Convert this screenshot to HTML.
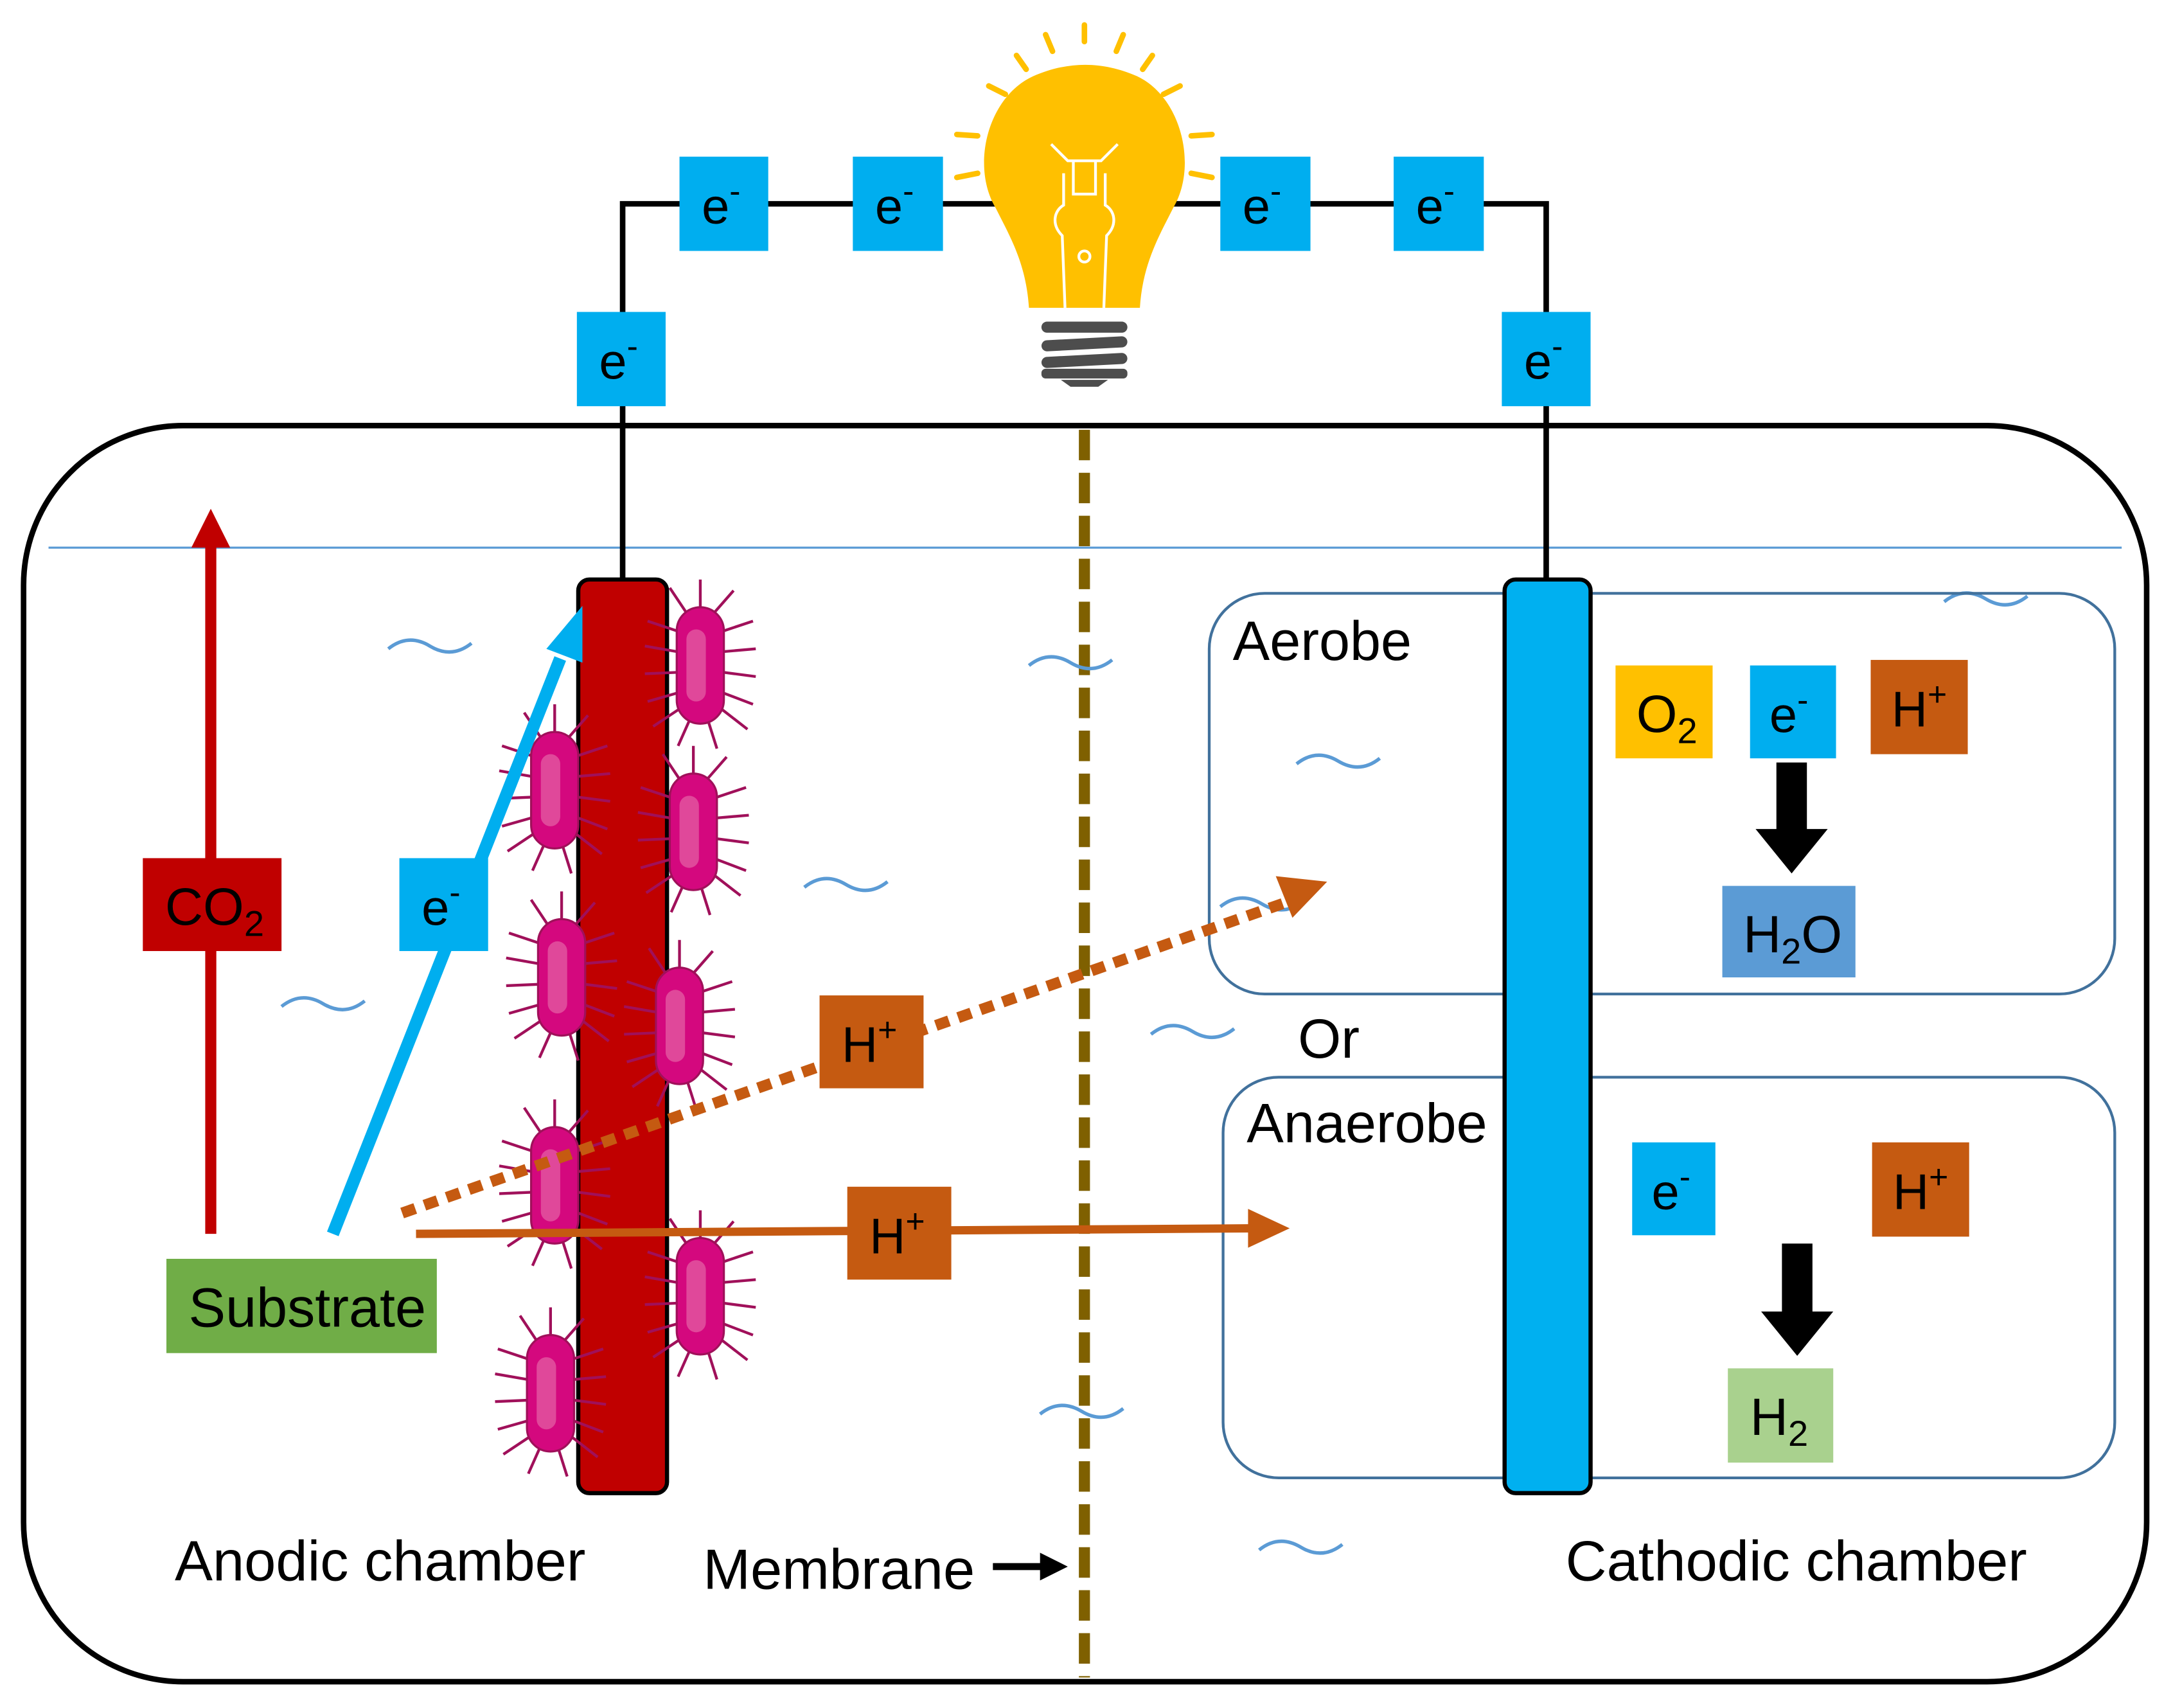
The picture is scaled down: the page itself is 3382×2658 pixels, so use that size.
<!DOCTYPE html>
<html><head><meta charset="utf-8"><style>html,body{margin:0;padding:0;background:#fff}svg{display:block}text{font-family:"Liberation Sans",Arial,sans-serif}</style></head>
<body>
<svg width="3382" height="2658" viewBox="0 0 1567 1232" preserveAspectRatio="none" xmlns="http://www.w3.org/2000/svg">
<defs>
<g id="bac">
  <g stroke="#A0105A" stroke-width="2">
    <line x1="0" y1="-40" x2="0" y2="-62"/><line x1="-10" y1="-38" x2="-22" y2="-56"/><line x1="10" y1="-38" x2="24" y2="-54"/>
    <line x1="-17" y1="-25" x2="-38" y2="-32"/><line x1="-17" y1="-10" x2="-40" y2="-14"/><line x1="-17" y1="5" x2="-40" y2="6"/><line x1="-17" y1="20" x2="-38" y2="26"/><line x1="-16" y1="32" x2="-34" y2="44"/>
    <line x1="17" y1="-25" x2="38" y2="-32"/><line x1="17" y1="-10" x2="40" y2="-12"/><line x1="17" y1="5" x2="40" y2="8"/><line x1="17" y1="20" x2="38" y2="28"/><line x1="16" y1="32" x2="34" y2="46"/>
    <line x1="-8" y1="40" x2="-16" y2="58"/><line x1="6" y1="41" x2="12" y2="60"/>
  </g>
  <rect x="-17" y="-42" width="34" height="84" rx="17" fill="#D4087E" stroke="#A0105A" stroke-width="1.5"/>
  <rect x="-10" y="-26" width="14" height="52" rx="7" fill="#E0489A"/>
</g>
<g id="wave"><path d="M0,6 C10,-2 20,-2 30,4 C40,10 50,10 60,2" fill="none" stroke="#5B9BD5" stroke-width="2.5"/></g>
</defs>

<rect x="17" y="307" width="1531" height="906" rx="115" fill="none" stroke="#000" stroke-width="4"/>
<line x1="35" y1="395" x2="1530" y2="395" stroke="#5B9BD5" stroke-width="1.5"/>

<polyline points="449,418 449,147 1115,147 1115,418" fill="none" stroke="#000" stroke-width="4"/>

<g>
  <g stroke="#FFC000" stroke-width="4" stroke-linecap="round">
    <line x1="782" y1="18" x2="782" y2="30"/><line x1="754" y1="25" x2="759" y2="37"/><line x1="810" y1="25" x2="805" y2="37"/>
    <line x1="733" y1="40" x2="740" y2="50"/><line x1="831" y1="40" x2="824" y2="50"/>
    <line x1="713" y1="62" x2="725" y2="68"/><line x1="851" y1="62" x2="839" y2="68"/>
    <line x1="690" y1="97" x2="705" y2="98"/><line x1="874" y1="97" x2="859" y2="98"/>
    <line x1="690" y1="128" x2="705" y2="125"/><line x1="874" y1="128" x2="859" y2="125"/>
  </g>
  <path d="M742,222 C740,190 728,170 718,150 C700,120 712,70 745,55 C770,44 795,44 820,55 C852,70 864,120 846,150 C836,170 824,190 822,222 Z" fill="#FFC000"/>
  <path d="M768,222 L766,170 C758,162 760,152 767,148 L767,125 M796,222 L798,170 C806,162 804,152 797,148 L797,125 M758,104 L770,116 L794,116 L806,104 M774,116 L774,140 L790,140 L790,116" fill="none" stroke="#fff" stroke-width="2"/>
  <circle cx="782" cy="185" r="4" fill="none" stroke="#fff" stroke-width="2"/>
  <g fill="#4D4D4D">
    <rect x="751" y="232" width="62" height="8" rx="4"/>
    <rect x="751" y="244" width="62" height="8" rx="4" transform="rotate(-3 782 248)"/>
    <rect x="751" y="256" width="62" height="8" rx="4" transform="rotate(-3 782 260)"/>
    <rect x="751" y="266" width="62" height="7" rx="3"/>
    <path d="M765,274 L799,274 L792,279 L772,279 Z"/>
  </g>
</g>

<g font-size="36" fill="#000">
<rect x="490" y="113" width="64" height="68" fill="#00AEEF"/><text x="506" y="161">e<tspan font-size="24" dy="-15">-</tspan></text>
<rect x="615" y="113" width="65" height="68" fill="#00AEEF"/><text x="631" y="161">e<tspan font-size="24" dy="-15">-</tspan></text>
<rect x="880" y="113" width="65" height="68" fill="#00AEEF"/><text x="896" y="161">e<tspan font-size="24" dy="-15">-</tspan></text>
<rect x="1005" y="113" width="65" height="68" fill="#00AEEF"/><text x="1021" y="161">e<tspan font-size="24" dy="-15">-</tspan></text>
<rect x="416" y="225" width="64" height="68" fill="#00AEEF"/><text x="432" y="273">e<tspan font-size="24" dy="-15">-</tspan></text>
<rect x="1083" y="225" width="64" height="68" fill="#00AEEF"/><text x="1099" y="273">e<tspan font-size="24" dy="-15">-</tspan></text>
</g>

<line x1="782" y1="310" x2="782" y2="1210" stroke="#7F6000" stroke-width="8" stroke-dasharray="22,9"/>

<use href="#wave" x="280" y="462"/><use href="#wave" x="742" y="474"/><use href="#wave" x="580" y="634"/>
<use href="#wave" x="203" y="720"/><use href="#wave" x="830" y="740"/><use href="#wave" x="935" y="545"/>
<use href="#wave" x="880" y="648"/><use href="#wave" x="1402" y="428"/><use href="#wave" x="750" y="1014"/>
<use href="#wave" x="908" y="1112"/>

<rect x="872" y="428" width="653" height="289" rx="40" fill="none" stroke="#41719C" stroke-width="2"/>
<rect x="882" y="777" width="643" height="289" rx="40" fill="none" stroke="#41719C" stroke-width="2"/>

<rect x="417" y="418" width="64" height="659" rx="8" fill="#C00000" stroke="#000" stroke-width="3"/>
<rect x="1085" y="418" width="62" height="659" rx="8" fill="#00B0F0" stroke="#000" stroke-width="3"/>

<use href="#bac" x="505" y="480"/><use href="#bac" x="400" y="570"/><use href="#bac" x="500" y="600"/>
<use href="#bac" x="405" y="705"/><use href="#bac" x="490" y="740"/><use href="#bac" x="400" y="855"/>
<use href="#bac" x="505" y="935"/><use href="#bac" x="397" y="1005"/>

<line x1="152" y1="890" x2="152" y2="392" stroke="#C00000" stroke-width="8"/>
<polygon points="138,395 166,395 152,367" fill="#C00000"/>
<rect x="103" y="619" width="100" height="67" fill="#C00000"/>
<text x="119" y="667" font-size="38">CO<tspan font-size="26" dy="8">2</tspan></text>

<line x1="240" y1="890" x2="404" y2="475" stroke="#00AEEF" stroke-width="9"/>
<polygon points="420,437 420,478 394,468" fill="#00AEEF"/>
<rect x="288" y="619" width="64" height="67" fill="#00AEEF"/>
<text x="304" y="667" font-size="36">e<tspan font-size="24" dy="-15">-</tspan></text>

<line x1="290" y1="875" x2="930" y2="650" stroke="#C55A11" stroke-width="8" stroke-dasharray="10,7"/>
<polygon points="957,636 920,632 932,662" fill="#C55A11"/>
<rect x="591" y="718" width="75" height="67" fill="#C55A11"/>
<text x="607" y="766" font-size="36">H<tspan font-size="24" dy="-15">+</tspan></text>

<line x1="300" y1="890" x2="905" y2="886" stroke="#C55A11" stroke-width="6"/>
<polygon points="930,886 900,872 900,900" fill="#C55A11"/>
<rect x="611" y="856" width="75" height="67" fill="#C55A11"/>
<text x="627" y="904" font-size="36">H<tspan font-size="24" dy="-15">+</tspan></text>

<rect x="120" y="908" width="195" height="68" fill="#70AD47"/>
<text x="136" y="957" font-size="40">Substrate</text>

<text x="889" y="476" font-size="40">Aerobe</text>
<rect x="1165" y="480" width="70" height="67" fill="#FFC000"/>
<text x="1180" y="528" font-size="38">O<tspan font-size="26" dy="8">2</tspan></text>
<rect x="1262" y="480" width="62" height="67" fill="#00AEEF"/>
<text x="1276" y="528" font-size="36">e<tspan font-size="24" dy="-15">-</tspan></text>
<rect x="1349" y="476" width="70" height="68" fill="#C55A11"/>
<text x="1364" y="524" font-size="36">H<tspan font-size="24" dy="-15">+</tspan></text>
<rect x="1281" y="550" width="22" height="50" fill="#000"/>
<polygon points="1266,598 1318,598 1292,630" fill="#000"/>
<rect x="1242" y="639" width="96" height="66" fill="#5B9BD5"/>
<text x="1257" y="687" font-size="38">H<tspan font-size="26" dy="8">2</tspan><tspan dy="-8">O</tspan></text>

<text x="936" y="763" font-size="40">Or</text>

<text x="899" y="824" font-size="40">Anaerobe</text>
<rect x="1177" y="824" width="60" height="67" fill="#00AEEF"/>
<text x="1191" y="872" font-size="36">e<tspan font-size="24" dy="-15">-</tspan></text>
<rect x="1350" y="824" width="70" height="68" fill="#C55A11"/>
<text x="1365" y="872" font-size="36">H<tspan font-size="24" dy="-15">+</tspan></text>
<rect x="1285" y="897" width="22" height="50" fill="#000"/>
<polygon points="1270,946 1322,946 1296,978" fill="#000"/>
<rect x="1246" y="987" width="76" height="68" fill="#A9D18E"/>
<text x="1262" y="1035" font-size="38">H<tspan font-size="26" dy="8">2</tspan></text>

<text x="126" y="1140" font-size="41">Anodic chamber</text>
<text x="507" y="1146" font-size="41">Membrane</text>
<line x1="716" y1="1130" x2="752" y2="1130" stroke="#000" stroke-width="5"/>
<polygon points="770,1130 750,1120 750,1140" fill="#000"/>
<text x="1129" y="1140" font-size="41">Cathodic chamber</text>
</svg>
</body></html>
